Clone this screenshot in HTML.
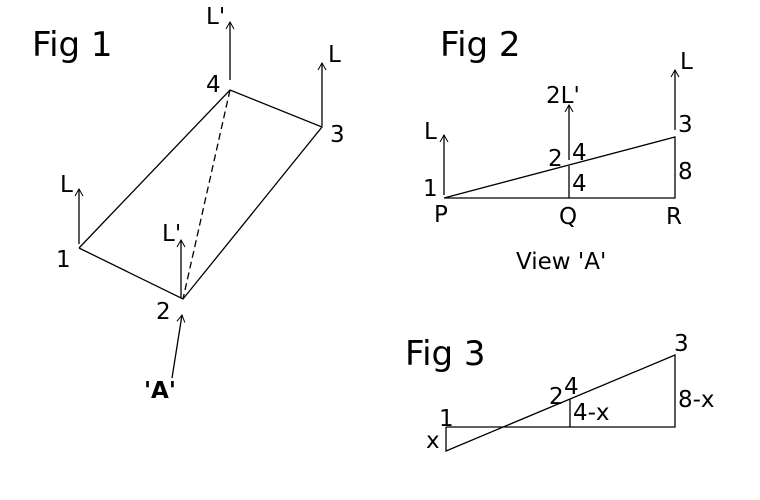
<!DOCTYPE html>
<html><head><style>body{margin:0;background:#fff}svg{display:block}</style></head><body>
<svg width="760" height="500" xmlns="http://www.w3.org/2000/svg" font-family="DejaVu Sans, Liberation Sans, sans-serif" fill="#000">
<defs><marker id="a" markerWidth="10" markerHeight="10" refX="9" refY="5" orient="auto" markerUnits="userSpaceOnUse"><path d="M2,1 L9,5 L2,9" fill="none" stroke="#000" stroke-width="1"/></marker></defs>
<g stroke="#000" stroke-width="1.3" fill="none">
<polyline points="79,248 230,90 322,127 183,299 79,248"/>
<line x1="230" y1="90" x2="183" y2="299" stroke-dasharray="7,4"/>
<line x1="79" y1="244" x2="79" y2="189" marker-end="url(#a)"/>
<line x1="181" y1="298" x2="181" y2="240" marker-end="url(#a)"/>
<line x1="230" y1="80" x2="230" y2="22" marker-end="url(#a)"/>
<line x1="322" y1="126" x2="322" y2="63" marker-end="url(#a)"/>
<line x1="172" y1="378" x2="182" y2="315" marker-end="url(#a)"/>
<polyline points="444,198 675,198 675,137 444,198"/>
<line x1="569" y1="198" x2="569" y2="166"/>
<line x1="444" y1="195" x2="444" y2="135" marker-end="url(#a)"/>
<line x1="569" y1="160" x2="569" y2="105" marker-end="url(#a)"/>
<line x1="675" y1="130" x2="675" y2="70" marker-end="url(#a)"/>
<polyline points="446,427 675,427 675,355 446,451 446,427"/>
<line x1="570" y1="427" x2="570" y2="399"/>
</g>
<g font-size="34">
<text x="32" y="56">Fig 1</text>
<text x="440" y="56">Fig 2</text>
<text x="405" y="365">Fig 3</text>
</g>
<g font-size="23">
<text x="60" y="192">L</text>
<text x="56" y="267">1</text>
<text x="162" y="241">L'</text>
<text x="156" y="319">2</text>
<text x="206" y="92">4</text>
<text x="206" y="24">L'</text>
<text x="330" y="142">3</text>
<text x="328" y="62">L</text>
<text x="144" y="398" font-weight="bold">'A'</text>
<text x="424" y="139">L</text>
<text x="423" y="196">1</text>
<text x="434" y="222">P</text>
<text x="546" y="103">2L'</text>
<text x="548" y="166">2</text>
<text x="572" y="160">4</text>
<text x="572" y="191">4</text>
<text x="559" y="224">Q</text>
<text x="680" y="69">L</text>
<text x="678" y="132">3</text>
<text x="678" y="179">8</text>
<text x="666" y="224">R</text>
<text x="516" y="269">View 'A'</text>
<text x="439" y="426">1</text>
<text x="426" y="448">x</text>
<text x="549" y="404">2</text>
<text x="564" y="394">4</text>
<text x="573" y="420">4-x</text>
<text x="674" y="351">3</text>
<text x="678" y="407">8-x</text>
</g>
</svg>
</body></html>
